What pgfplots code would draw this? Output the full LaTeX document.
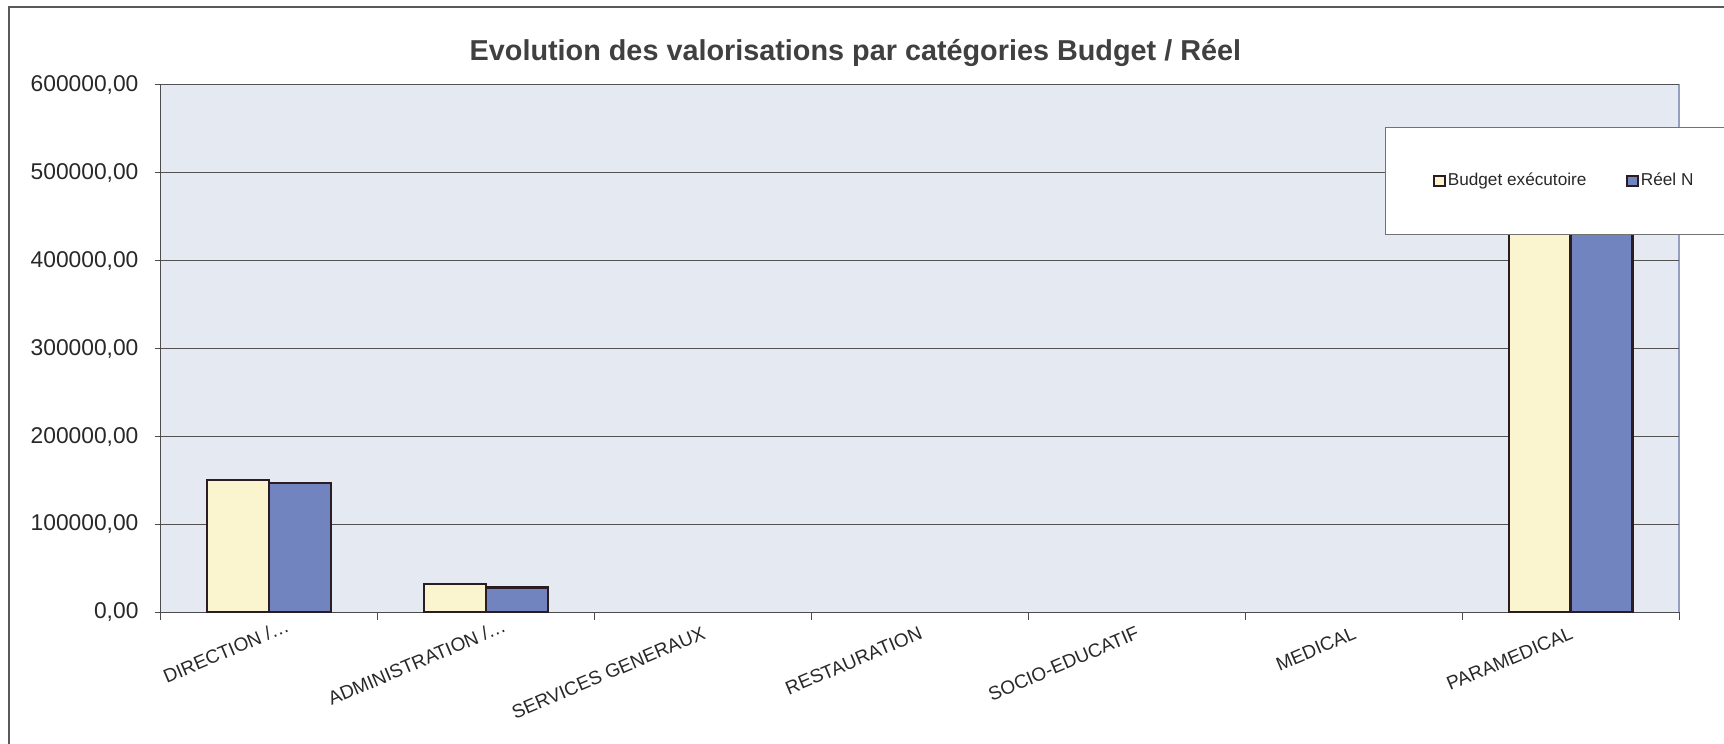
\documentclass[border=0pt]{standalone}
\usepackage{fontspec}
\setmainfont{Liberation Sans}
\usepackage{pgfplots}
\pgfplotsset{compat=1.18}

\definecolor{plotbg}{HTML}{E5E9F2}
\definecolor{budget}{HTML}{FAF5CE}
\definecolor{reel}{HTML}{7284BF}
\definecolor{barline}{HTML}{2B1C24}
\definecolor{framegray}{HTML}{5A5A5A}
\definecolor{plotborder}{HTML}{93A0C2}
\definecolor{txt}{HTML}{282828}

\pgfplotsset{sqlegend/.style={legend image code/.code={%
  \draw[##1, line width=1pt] (0pt,-2.6pt) rectangle (5.2pt,2.6pt);}}}

\begin{document}
\begin{tikzpicture}
\useasboundingbox (0,0) rectangle (862pt,372pt);
\fill[white] (0,0) rectangle (862pt,372pt);
\draw[framegray, line width=0.6pt] (4.5pt,-2pt) -- (4.5pt,368.5pt) -- (872pt,368.5pt);
\node[font=\bfseries\fontsize{14.4}{16}\selectfont, text=black!75] at (427.7pt,345.6pt)
  {Evolution des valorisations par catégories Budget / Réel};

\begin{axis}[
  at={(80.25pt,65.8pt)}, anchor=south west,
  scale only axis, width=759.25pt, height=263.85pt,
  ybar, bar width=0.285,
  xmin=-0.5, xmax=6.5, ymin=0, ymax=600000,
  xtick={0,...,6},
  xticklabels={DIRECTION /\rlap{…}, ADMINISTRATION /\rlap{…}, SERVICES GENERAUX, RESTAURATION, SOCIO-EDUCATIF, MEDICAL, PARAMEDICAL},
  minor xtick={-0.5,0.5,...,6.5},
  major x tick style={draw=none},
  ytick={0,100000,...,600000},
  scaled y ticks=false,
  /pgf/number format/.cd, fixed, fixed zerofill, precision=2, use comma, 1000 sep={}, assume math mode=true,
  /pgfplots/.cd,
  tick align=outside,
  major tick length=3pt, minor tick length=4pt,
  tick style={black!70, line width=0.5pt},
  ymajorgrids,
  grid style={line width=0.5pt, black!68},
  axis x line*=bottom, axis y line*=left,
  axis line style={-, black!70, line width=0.6pt},
  axis background/.style={fill=plotbg, draw=plotborder, line width=0.6pt},
  xticklabel style={rotate=23, anchor=north east, font=\fontsize{9.5}{11}\selectfont, text=txt, inner sep=0pt, xshift=-2pt, yshift=-3pt},
  yticklabel style={font=\fontsize{11.4}{13}\selectfont, text=txt, xshift=-4.5pt},
  legend columns=2,
  legend style={at={(0.8064,0.9204)}, anchor=north west, draw=black!55, fill=white,
    inner xsep=24pt, inner ysep=22pt, font=\fontsize{8.6}{10}\selectfont, text=txt,
    nodes={inner sep=1pt},
    /tikz/every even column/.append style={column sep=19pt}},
]
% zero-valued categories are left out: Excel draws nothing for them
\addplot[fill=budget, draw=barline, line width=1.2pt, bar shift=-0.1425, sqlegend]
  coordinates {(0,150200) (1,32300) (6,490000)};
\addplot[fill=reel, draw=barline, line width=1.2pt, bar shift=0.1425, sqlegend]
  coordinates {(0,146800) (1,28500) (6,487000)};
\legend{Budget exécutoire, Réel N}
\end{axis}
\end{tikzpicture}
\end{document}
